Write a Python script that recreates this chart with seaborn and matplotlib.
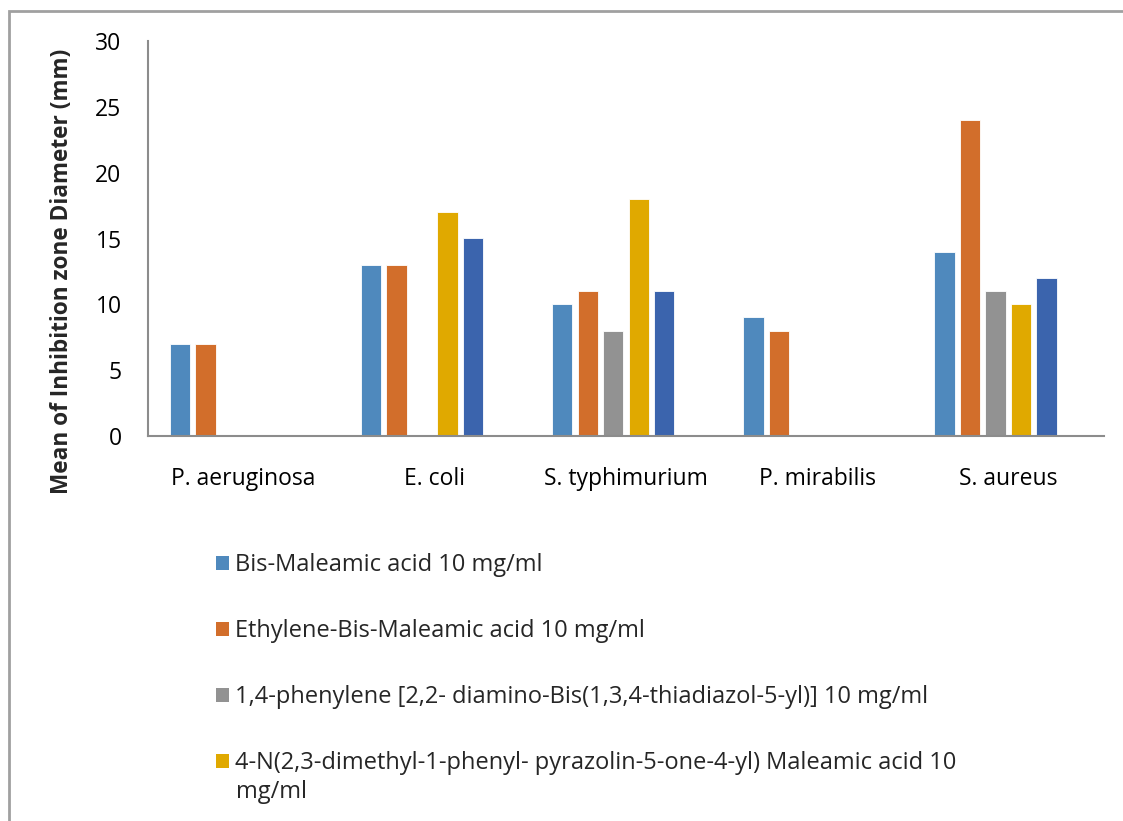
import numpy as np
import pandas as pd
import seaborn as sns
import matplotlib.pyplot as plt
from matplotlib.patches import Patch, Rectangle

# bacteria on the x axis
bacteria = ['P. aeruginosa', 'E. coli', 'S. typhimurium', 'P. mirabilis', 'S. aureus']

# compound names (the 5th and 6th legend entries are cut off in the original figure)
compounds = [
    'Bis-Maleamic acid 10 mg/ml',
    'Ethylene-Bis-Maleamic acid 10 mg/ml',
    '1,4-phenylene [2,2- diamino-Bis(1,3,4-thiadiazol-5-yl)] 10 mg/ml',
    '4-N(2,3-dimethyl-1-phenyl- pyrazolin-5-one-4-yl) Maleamic acid 10 mg/ml',
    'Compound 5',
    'Compound 6',
]

# inhibition zone diameters (mm), NaN = no bar
bisMaleamic = [7, 13, 10, 9, 14]
ethyleneBis = [7, 13, 11, 8, 24]
phenylene = [np.nan, np.nan, 8, np.nan, 11]
pyrazolin = [np.nan, 17, 18, np.nan, 10]
compound5 = [np.nan, 15, 11, np.nan, 12]
compound6 = [np.nan, np.nan, np.nan, np.nan, np.nan]

colors = ['#4F89BD', '#D26E2B', '#929292', '#E0A900', '#3B64AD', '#70AD47']

series = [bisMaleamic, ethyleneBis, phenylene, pyrazolin, compound5, compound6]
rows = []
for name, vals in zip(compounds, series):
    for b, v in zip(bacteria, vals):
        rows.append({'Bacteria': b, 'Compound': name, 'Diameter': v})
df = pd.DataFrame(rows).dropna()

sns.set_style('white')
plt.rcParams['font.family'] = ['Open Sans', 'DejaVu Sans']

fig = plt.figure(figsize=(11.23, 8.21), dpi=100)
ax = fig.add_axes([148 / 1123, 1 - 436 / 821, (1104 - 148) / 1123, (436 - 41) / 821])

sns.barplot(data=df, x='Bacteria', y='Diameter', hue='Compound',
            order=bacteria, hue_order=compounds, palette=colors, saturation=1,
            width=0.8, gap=0.2, edgecolor='white', linewidth=0.6,
            legend=False, ax=ax)

ax.set_ylim(0, 30)
ax.set_yticks([0, 5, 10, 15, 20, 25, 30])
ax.set_xlim(-0.5, 4.5)
ax.set_xlabel('')
ax.set_ylabel('')
for s in ['top', 'right']:
    ax.spines[s].set_visible(False)
for s in ['left', 'bottom']:
    ax.spines[s].set_color('#8C8C8C')
    ax.spines[s].set_linewidth(1.5)
ax.tick_params(axis='y', length=0, pad=19, labelsize=16.5, labelcolor='black')
ax.tick_params(axis='x', length=0, pad=22, labelsize=16.5, labelcolor='black')

fig.text(62 / 1123, 1 - 271 / 821, 'Mean of Inhibition zone Diameter (mm)',
         rotation=90, fontsize=16.3, fontweight='bold', ha='center', va='center')

# legend (only the first four entries are visible in the original)
handles = [Patch(facecolor=colors[i], edgecolor='none') for i in range(4)]
labels = compounds[:3] + ['4-N(2,3-dimethyl-1-phenyl- pyrazolin-5-one-4-yl) Maleamic acid 10']
fig.legend(handles, labels, loc='upper left', bbox_to_anchor=(216 / 1123, 1 - 553 / 821),
           frameon=False, fontsize=17, borderpad=0, borderaxespad=0,
           handlelength=0.55, handleheight=0.55, handletextpad=0.25, labelspacing=1.78)
fig.text(236 / 1123, 1 - 792 / 821, 'mg/ml', fontsize=17, ha='left', va='center')

# outer chart frame
fig.patches.append(Rectangle((9 / 1123, -0.1), 1.2, 1.1 - 11 / 821,
                             transform=fig.transFigure, fill=False,
                             edgecolor='#A0A0A0', linewidth=2))

fig.savefig('out.png', dpi=100)
